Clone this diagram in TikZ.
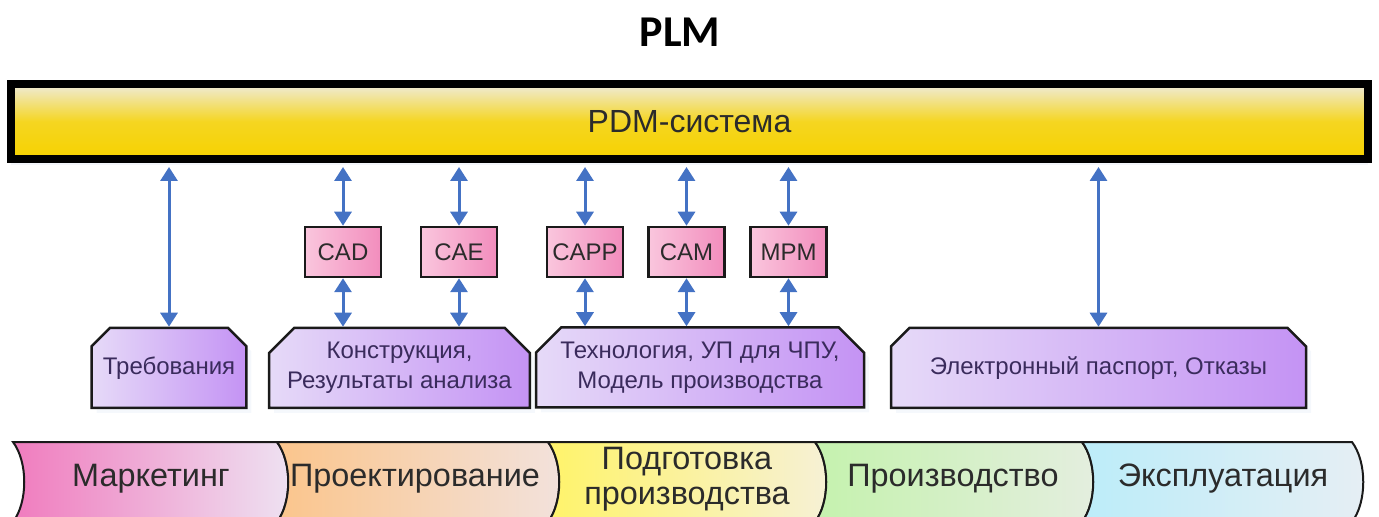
\documentclass[tikz,border=0pt]{standalone}
\usepackage{fontspec}
\setmainfont{Liberation Sans}
\newfontfamily\plmfont{Carlito}
\usetikzlibrary{
  arrows.meta,
  shadows,
  shapes.misc
}
\definecolor{plmInk}{HTML}{1A1A1A}
\definecolor{plmText}{HTML}{2B2B2B}
\definecolor{plmBlue}{HTML}{4472C4}
\definecolor{plmGold}{HTML}{F6D200}
\definecolor{plmCream}{HTML}{EFEBDA}
\definecolor{plmPinkLt}{HTML}{FAC6DD}
\definecolor{plmPink}{HTML}{F28DBD}
\definecolor{plmLilacLt}{HTML}{E6DAF8}
\definecolor{plmLilac}{HTML}{C493F4}
\definecolor{plmPlum}{HTML}{3A2B5C}
\definecolor{bandMktDk}{HTML}{F07CBE}
\definecolor{bandMktLt}{HTML}{EEE2F2}
\definecolor{bandDsnDk}{HTML}{FBC58C}
\definecolor{bandDsnLt}{HTML}{F2E2DC}
\definecolor{bandPrepDk}{HTML}{FFF36A}
\definecolor{bandPrepLt}{HTML}{F6F1D6}
\definecolor{bandProdDk}{HTML}{C5F2AE}
\definecolor{bandProdLt}{HTML}{E4EEDF}
\definecolor{bandOpsDk}{HTML}{BCEDF9}
\definecolor{bandOpsLt}{HTML}{E6EEF4}
\tikzset{
  every node/.style={font=\fontsize{12}{15}\selectfont, text=plmText},
  heading/.style={font=\plmfont\bfseries\fontsize{22}{26}\selectfont, text=black},
  pdmbar/.style={
    draw=black,
    line width=4pt,
    top color=plmCream,
    bottom color=plmGold,
    middle color=plmGold!85!plmCream,
    minimum width=678.5pt,
    minimum height=37.5pt,
    inner sep=0pt,
    font=\fontsize{16}{19}\selectfont,
    drop shadow={shadow xshift=0pt, shadow yshift=-3pt, fill=plmBlue!12}
  },
  tool/.style={
    draw=plmInk,
    line width=1.25pt,
    left color=plmPinkLt,
    right color=plmPink,
    minimum width=38pt,
    minimum height=25pt,
    inner sep=0pt
  },
  area/.style={
    chamfered rectangle,
    chamfered rectangle corners={north west, north east},
    chamfered rectangle xsep=9pt,
    draw=plmInk,
    line width=1.25pt,
    left color=plmLilacLt,
    right color=plmLilac,
    minimum height=40pt,
    inner sep=0pt,
    align=center,
    text=plmPlum,
    drop shadow={shadow xshift=2.5pt, shadow yshift=-2.5pt, fill=plmBlue!10}
  },
  link/.style={
    >={Triangle[length=7pt,width=8.5pt]},
    <->,
    line width=1.5pt,
    draw=plmBlue
  },
  barlink/.style={link, shorten <=2pt},
  band/.style={draw=plmInk, line width=1pt},
  phase/.style={font=\fontsize{16.2}{17.5}\selectfont, align=center, text=plmText}
}

\begin{document}
\begin{tikzpicture}[x=0.5pt, y=-0.5pt]
  \useasboundingbox (0,0) rectangle (1379,517);

  \node[heading] (plm) at (680,32) {PLM};
  \node[pdmbar] (pdm) at (689.5,121.5) {PDM-система};

  % CAx tools
  \node[tool] (cad) at (343,252) {CAD};
  \node[tool] (cae) at (459,252) {CAE};
  \node[tool] (capp) at (585,252) {CAPP};
  \node[tool] (cam) at (686.5,252) {CAM};
  \node[tool] (mpm) at (788.5,252) {MPM};

  % data held in the PDM
  \node[area, minimum width=75pt] (req) at (169,368) {Требования};
  \node[area, minimum width=126.5pt] (design) at (399.5,368) {Конструкция,\\Результаты анализа};
  \node[area, minimum width=164pt] (tech) at (700,367.5) {Технология, УП для ЧПУ,\\Модель производства};
  \node[area, minimum width=207.5pt] (passport) at (1098.5,368) {Электронный паспорт, Отказы};

  \draw[barlink] (pdm.south -| req.north) -- (req.north);
  \draw[barlink] (pdm.south -| cad.north) -- (cad.north);
  \draw[barlink] (pdm.south -| cae.north) -- (cae.north);
  \draw[barlink] (pdm.south -| capp.north) -- (capp.north);
  \draw[barlink] (pdm.south -| cam.north) -- (cam.north);
  \draw[barlink] (pdm.south -| mpm.north) -- (mpm.north);
  \draw[barlink] (pdm.south -| passport.north) -- (passport.north);

  \draw[link] (cad.south) -- (cad.south |- design.north);
  \draw[link] (cae.south) -- (cae.south |- design.north);
  \draw[link] (capp.south) -- (capp.south |- tech.north);
  \draw[link] (cam.south) -- (cam.south |- tech.north);
  \draw[link] (mpm.south) -- (mpm.south |- tech.north);

  % life-cycle stages
  \shade[band, left color=bandMktDk, right color=bandMktLt]
    (13,442) -- (277,442) .. controls +(15,20) and +(15,-20) .. (277,522)
    -- (13,522) .. controls +(15,-20) and +(15,20) .. (13,442) -- cycle;
  \shade[band, left color=bandDsnDk, right color=bandDsnLt]
    (277,442) -- (548,442) .. controls +(15,20) and +(15,-20) .. (548,522)
    -- (277,522) .. controls +(15,-20) and +(15,20) .. (277,442) -- cycle;
  \shade[band, left color=bandPrepDk, right color=bandPrepLt]
    (548,442) -- (815,442) .. controls +(15,20) and +(15,-20) .. (815,522)
    -- (548,522) .. controls +(15,-20) and +(15,20) .. (548,442) -- cycle;
  \shade[band, left color=bandProdDk, right color=bandProdLt]
    (815,442) -- (1082,442) .. controls +(15,20) and +(15,-20) .. (1082,522)
    -- (815,522) .. controls +(15,-20) and +(15,20) .. (815,442) -- cycle;
  \shade[band, left color=bandOpsDk, right color=bandOpsLt]
    (1082,442) -- (1352,442) .. controls +(15,20) and +(15,-20) .. (1352,522)
    -- (1082,522) .. controls +(15,-20) and +(15,20) .. (1082,442) -- cycle;

  \node[phase] (mkt) at (151,479) {Маркетинг};
  \node[phase] (dsn) at (415,479) {Проектирование};
  \node[phase] (prep) at (687,479) {Подготовка\\производства};
  \node[phase] (prod) at (953,479) {Производство};
  \node[phase] (ops) at (1223,479) {Эксплуатация};
\end{tikzpicture}
\end{document}
